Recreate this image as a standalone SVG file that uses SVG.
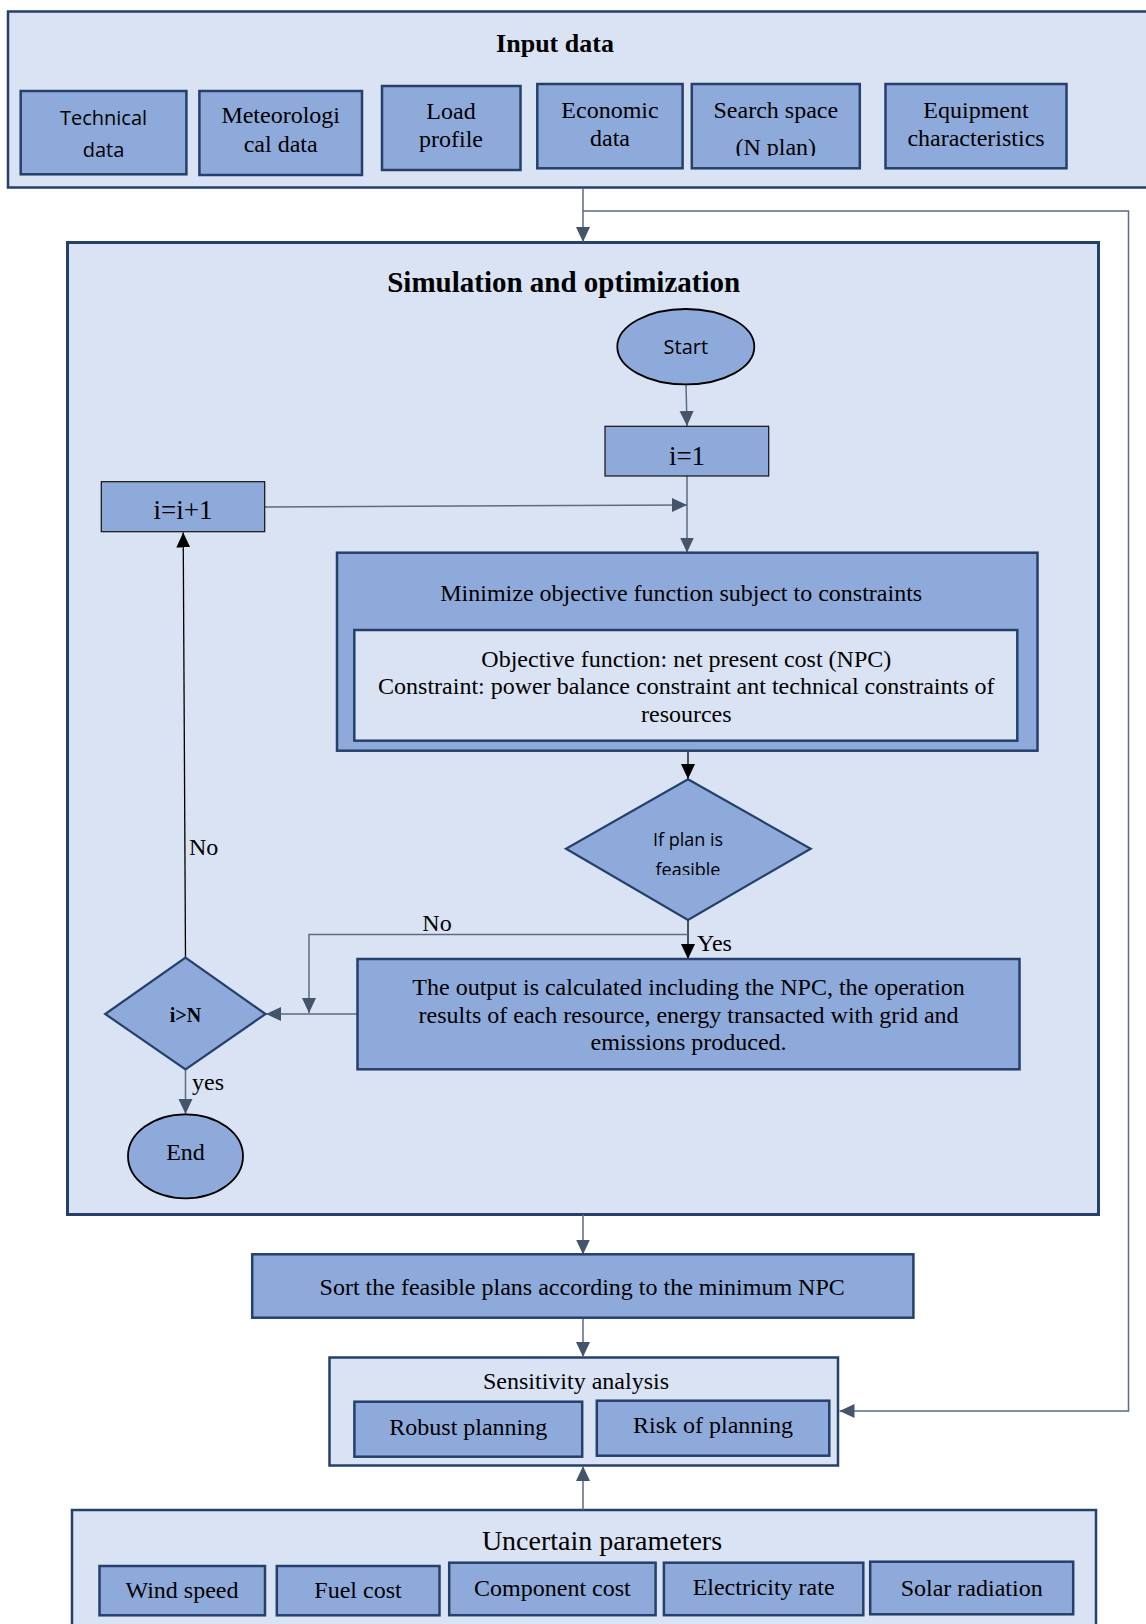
<svg xmlns="http://www.w3.org/2000/svg" width="1146" height="1624" viewBox="0 0 1146 1624">
<style>
.lt{fill:#dae3f3;stroke:#25406b;stroke-width:2.5}
.md{fill:#8eaadb;stroke:#25406b;stroke-width:2.5}
.thin{fill:#8eaadb;stroke:#111;stroke-width:1.2}
.ell{fill:#8eaadb;stroke:#000;stroke-width:1.8}
.dia{fill:#8eaadb;stroke:#25406b;stroke-width:2.2}
.s{font-family:"Liberation Serif","Times New Roman",serif;font-size:24px;fill:#000;text-anchor:middle}
.ss{font-family:"Open Sans","Liberation Sans",sans-serif;font-size:20px;fill:#000;text-anchor:middle}
.b{font-weight:bold}
.c{fill:none;stroke:#5b6b82;stroke-width:1.5}
.k{fill:none;stroke:#000;stroke-width:1.3}
.lab{font-family:"Liberation Serif","Times New Roman",serif;font-size:24px;fill:#000}
</style>
<defs>
<marker id="ag" markerUnits="userSpaceOnUse" markerWidth="15" markerHeight="15" refX="15" refY="7" orient="auto" viewBox="0 0 15 14">
<path d="M0,0 L15,7 L0,14 Z" fill="#44546a"/>
</marker>
<marker id="ak" markerUnits="userSpaceOnUse" markerWidth="15" markerHeight="15" refX="15" refY="7" orient="auto" viewBox="0 0 15 14">
<path d="M0,0 L15,7 L0,14 Z" fill="#000"/>
</marker>
<clipPath id="clipN"><rect x="680" y="90" width="170" height="66"/></clipPath>
<clipPath id="clipF"><rect x="600" y="800" width="180" height="75"/></clipPath>
</defs>
<rect width="1146" height="1624" fill="#fff"/>

<g id="input-data">
<rect class="lt" x="8" y="11.5" width="1150" height="176"/>
<text class="s b" x="555" y="52" style="font-size:26px">Input data</text>
</g>
<g id="technical-data">
<rect class="md" x="20.7" y="91" width="165.7" height="83.3"/>
<text class="ss" x="103.5" y="125">Technical</text>
<text class="ss" x="103.5" y="157">data</text>
</g>
<g id="meteorological-data">
<rect class="md" x="199.4" y="91" width="162.6" height="84"/>
<text class="s" x="280.7" y="123">Meteorologi</text>
<text class="s" x="280.7" y="151.5">cal data</text>
</g>
<g id="load-profile">
<rect class="md" x="382" y="86" width="138.5" height="84"/>
<text class="s" x="451" y="119">Load</text>
<text class="s" x="451" y="146.5">profile</text>
</g>
<g id="economic-data">
<rect class="md" x="537.3" y="84" width="145.3" height="84.3"/>
<text class="s" x="610" y="117.5">Economic</text>
<text class="s" x="610" y="146">data</text>
</g>
<g id="search-space">
<rect class="md" x="691.8" y="84" width="168" height="84.3"/>
<text class="s" x="775.8" y="117.5">Search space</text>
<text class="s" x="775.8" y="155" clip-path="url(#clipN)">(N plan)</text>
</g>
<g id="equipment-characteristics">
<rect class="md" x="885.5" y="84" width="181" height="84.3"/>
<text class="s" x="976" y="118">Equipment</text>
<text class="s" x="976" y="145.7">characteristics</text>
</g>

<g id="simulation-and-optimization">
<rect class="lt" x="67.5" y="242.5" width="1031" height="972" style="stroke-width:3"/>
<text class="s b" x="563.7" y="291.7" style="font-size:29px">Simulation and optimization</text>
</g>

<g id="uncertain-parameters">
<rect class="lt" x="72" y="1510" width="1024" height="130"/>
<text class="s" x="602" y="1549.5" style="font-size:28px">Uncertain parameters</text>
</g>

<g id="sensitivity-analysis">
<rect class="lt" x="329.5" y="1357.5" width="508.5" height="108"/>
<text class="s" x="576" y="1388.5">Sensitivity analysis</text>
</g>

<g id="connectors">
<path class="c" d="M583,188 V242" marker-end="url(#ag)"/>
<path class="c" d="M583,211 H1128.5 V1411 H839.5" marker-end="url(#ag)"/>
<path class="c" d="M686,384.5 L687,426" marker-end="url(#ag)"/>
<path class="c" d="M687,476 V552.5" marker-end="url(#ag)"/>
<path class="c" d="M265,507 L687,505" marker-end="url(#ag)"/>
<path class="k" d="M688,751 V779" marker-end="url(#ak)"/>
<path class="k" d="M688,920 V959" marker-end="url(#ak)"/>
<path class="c" d="M688,934.5 H309 V1013" marker-end="url(#ag)"/>
<path class="c" d="M357,1014 H266" marker-end="url(#ag)"/>
<path class="k" d="M185.5,957.5 L183.2,532.5" marker-end="url(#ak)"/>
<path class="c" d="M185.5,1069.5 V1114" marker-end="url(#ag)"/>
<path class="c" d="M583,1214.5 V1254.5" marker-end="url(#ag)"/>
<path class="c" d="M583,1318 V1357" marker-end="url(#ag)"/>
<path class="c" d="M583,1510 V1466" marker-end="url(#ag)"/>
<text class="lab" x="189" y="855">No</text>
<text class="lab" x="437" y="931" text-anchor="middle">No</text>
<text class="lab" x="697" y="951">Yes</text>
<text class="lab" x="192" y="1090">yes</text>
</g>

<g id="start">
<ellipse class="ell" cx="685.8" cy="346.7" rx="68.5" ry="37.7"/>
<text class="ss" x="685.8" y="354">Start</text>
</g>
<g id="i-equals-1">
<rect class="thin" x="605" y="426.3" width="163.7" height="49.7"/>
<text class="s" x="687" y="465" style="font-size:27px">i=1</text>
</g>
<g id="i-increment">
<rect class="thin" x="101.3" y="481.7" width="163.4" height="50"/>
<text class="s" x="183" y="519.3" style="font-size:27px">i=i+1</text>
</g>
<g id="minimize">
<rect class="md" x="337" y="552.7" width="700.5" height="198"/>
<text class="s" x="681.2" y="601">Minimize objective function subject to constraints</text>
<rect class="lt" x="354.3" y="630" width="663" height="110.7"/>
<text class="s" x="686.3" y="666.7">Objective function: net present cost (NPC)</text>
<text class="s" x="686.3" y="694">Constraint: power balance constraint ant technical constraints of</text>
<text class="s" x="686.3" y="721.7">resources</text>
</g>
<g id="feasible-check">
<polygon class="dia" points="688,779.3 810.7,848.7 688,920 566,848.7"/>
<text class="ss" x="688" y="846" style="font-size:18px">If plan is</text>
<text class="ss" x="688" y="876" style="font-size:18px" clip-path="url(#clipF)">feasible</text>
</g>
<g id="output">
<rect class="md" x="357.5" y="959" width="662" height="110.3"/>
<text class="s" x="688.6" y="995">The output is calculated including the NPC, the operation</text>
<text class="s" x="688.6" y="1022.7">results of each resource, energy transacted with grid and</text>
<text class="s" x="688.6" y="1050">emissions produced.</text>
</g>
<g id="i-greater-n">
<polygon class="dia" points="185.5,957.7 265.5,1014 185.5,1069.3 105.2,1014"/>
<text class="s b" x="185.5" y="1021.7" style="font-size:20px">i&gt;N</text>
</g>
<g id="end">
<ellipse class="ell" cx="185.5" cy="1156.3" rx="57.5" ry="42"/>
<text class="s" x="185.5" y="1160">End</text>
</g>
<g id="sort">
<rect class="md" x="252.2" y="1254.3" width="661.2" height="63.4"/>
<text class="s" x="582.2" y="1295">Sort the feasible plans according to the minimum NPC</text>
</g>
<g id="robust-planning">
<rect class="md" x="354.4" y="1401.7" width="227.8" height="55"/>
<text class="s" x="468.3" y="1435">Robust planning</text>
</g>
<g id="risk-of-planning">
<rect class="md" x="596.8" y="1400.7" width="232.5" height="55"/>
<text class="s" x="713" y="1433.3">Risk of planning</text>
</g>
<g id="wind-speed">
<rect class="md" x="99.5" y="1566" width="165.5" height="49.3"/>
<text class="s" x="182" y="1598.3">Wind speed</text>
</g>
<g id="fuel-cost">
<rect class="md" x="276.8" y="1566" width="162.7" height="49.3"/>
<text class="s" x="358" y="1598.3">Fuel cost</text>
</g>
<g id="component-cost">
<rect class="md" x="449.2" y="1562.7" width="206.4" height="52.5"/>
<text class="s" x="552.4" y="1596">Component cost</text>
</g>
<g id="electricity-rate">
<rect class="md" x="663.9" y="1562.7" width="199.4" height="52.5"/>
<text class="s" x="763.6" y="1595">Electricity rate</text>
</g>
<g id="solar-radiation">
<rect class="md" x="870.2" y="1561.7" width="203" height="52.6"/>
<text class="s" x="971.7" y="1596">Solar radiation</text>
</g>
</svg>
